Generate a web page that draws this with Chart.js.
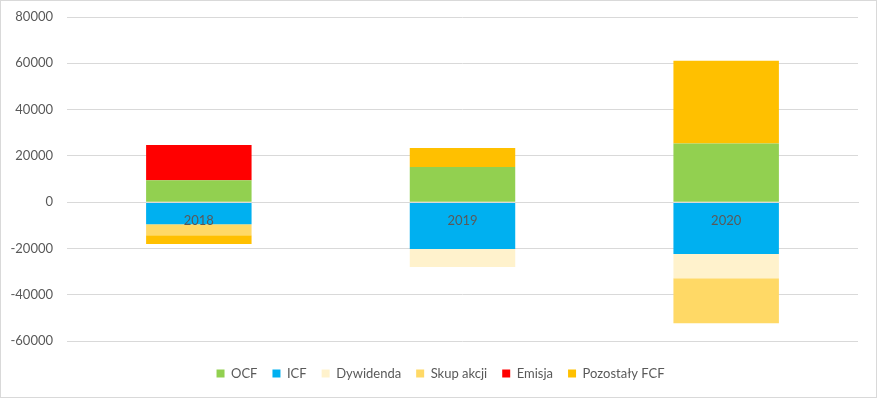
<!DOCTYPE html>
<html>
<head>
<meta charset="utf-8">
<script src="https://cdn.jsdelivr.net/npm/chart.js@4/dist/chart.umd.min.js"></script>
<style>
  html, body { margin: 0; padding: 0; background: #fff; }
  #wrap { width: 877px; height: 398px; box-sizing: border-box; border: 1px solid #d9d9d9; }
  canvas { display: block; }
</style>
</head>
<body>
<div id="wrap"><canvas id="chart" width="875" height="396"></canvas></div>
<script>
const years = ['2018', '2019', '2020'];
const ocf = [9500, 15200, 25300];
const icf = [-9500, -20200, -22400];
const dywidenda = [0, -7800, -10500];
const skupAkcji = [-4800, 0, -19400];
const emisja = [15200, 0, 0];
const pozostalyFcf = [-3800, 8200, 35800];

const yMin = -60000, yMax = 80000, yStep = 20000;

const txt = '#595959';
const grid = '#d9d9d9';
const font = { family: 'Lato, "Open Sans", sans-serif', size: 13 };

const series = [
  ['OCF', ocf, '#92d050'],
  ['ICF', icf, '#00b0f0'],
  ['Dywidenda', dywidenda, '#fff2cc'],
  ['Skup akcji', skupAkcji, '#ffd966'],
  ['Emisja', emisja, '#ff0000'],
  ['Pozostały FCF', pozostalyFcf, '#ffc000'],
];

new Chart(document.getElementById('chart'), {
  type: 'bar',
  data: {
    labels: years,
    datasets: series.map(([label, data, color]) => ({
      label, data,
      backgroundColor: color,
      borderWidth: 0,
      barPercentage: 1,
      categoryPercentage: 0.4,
    })),
  },
  options: {
    responsive: false,
    animation: false,
    layout: { padding: { top: 16, right: 0, left: 4, bottom: 7 } },
    plugins: {
      tooltip: { enabled: false },
      legend: {
        position: 'bottom',
        // empty title only adds a bit of space between plot and legend
        title: { display: true, text: '', padding: 2.5, font: { size: 5, lineHeight: 1.2 } },
        labels: { color: txt, font, boxWidth: 8, boxHeight: 8, padding: 15 },
      },
    },
    scales: {
      x: {
        stacked: true,
        position: { y: 0 },
        grid: { display: false, drawTicks: false },
        border: { display: true, color: grid, z: 1 },
        ticks: { color: txt, font, padding: 11, z: 1 },
      },
      y: {
        stacked: true,
        min: yMin, max: yMax,
        grid: { color: grid, drawTicks: false },
        border: { display: false },
        ticks: { stepSize: yStep, color: txt, font, padding: 14, callback: (v) => String(v) },
        afterFit: (s) => { s.width = 62; s.paddingTop = 0; s.paddingBottom = 0; },
      },
      // empty right axis, just keeps the right margin of the plot
      y2: {
        position: 'right',
        grid: { display: false, drawTicks: false },
        border: { display: false },
        ticks: { display: false },
        afterFit: (s) => { s.width = 18; s.paddingTop = 0; s.paddingBottom = 0; },
      },
    },
  },
});
</script>
</body>
</html>
